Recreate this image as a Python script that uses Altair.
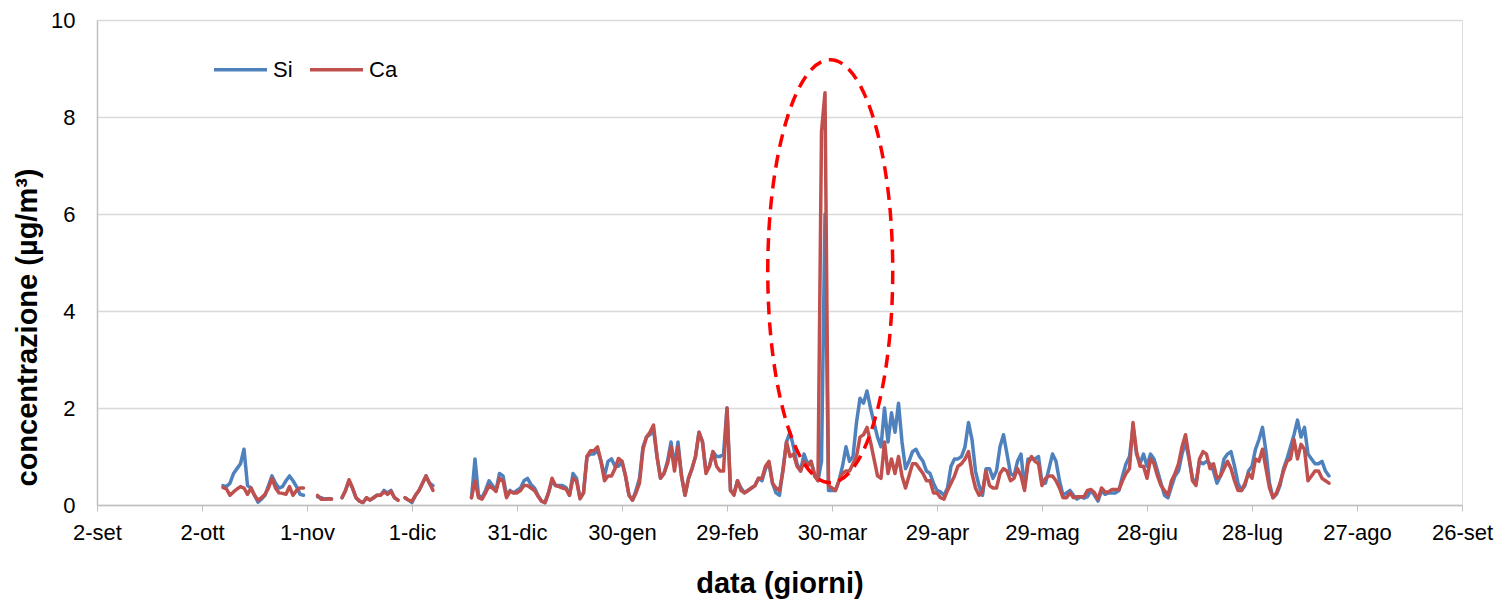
import altair as alt
import pandas as pd

# ---------------- data (daily values) ----------------
start_date = "2015-10-08"   # first day with data
# None = missing day (gap in the line)
si = [
    0.40, 0.38, 0.45, 0.65, 0.75, 0.85, 1.15, 0.40, 0.35, 0.20,   # 8-17 ott
    0.06, 0.12, 0.20, 0.40, 0.60, 0.45, 0.35, 0.38, 0.50, 0.60,   # 18-27 ott
    0.50, 0.38, 0.22, 0.20, None, None, None, 0.17, 0.15, 0.12,   # 28 ott - 6 nov
    0.13, 0.13, None, None, 0.15, 0.30, 0.50, 0.35, 0.15, 0.08,   # 7-16 nov
    0.05, 0.15, 0.10, 0.15, 0.20, 0.20, 0.30, 0.25, 0.30, 0.15,   # 17-26 nov
    0.10, None, 0.15, 0.10, 0.05, 0.20, 0.30, 0.45, 0.60, 0.45,   # 27 nov - 6 dic
    0.40, None, None, None, None, None, None, None, None, None,   # 7-16 dic
    None, 0.15, 0.95, 0.20, 0.15, 0.30, 0.50, 0.40, 0.30, 0.65,   # 17-26 dic
    0.60, 0.20, 0.30, 0.25, 0.30, 0.35, 0.50, 0.55, 0.42, 0.35,   # 27 dic - 5 gen
    0.20, 0.08, 0.05, 0.25, 0.50, 0.40, 0.40, 0.40, 0.36, 0.20,   # 6-15 gen
    0.65, 0.55, 0.13, 0.25, 1.00, 1.05, 1.05, 1.15, 0.90, 0.60,   # 16-25 gen
    0.90, 0.95, 0.80, 0.80, 0.90, 0.60, 0.20, 0.10, 0.30, 0.55,   # 26 gen - 4 feb
    1.20, 1.40, 1.45, 1.55, 1.00, 0.55, 0.65, 0.90, 1.30, 0.80,   # 5-14 feb
    1.30, 0.60, 0.20, 0.55, 0.75, 1.00, 1.50, 1.30, 0.70, 0.80,   # 15-24 feb
    1.10, 1.00, 1.00, 1.05, 2.00, 0.30, 0.25, 0.50, 0.35, 0.25,   # 25 feb - 5 mar
    0.30, 0.35, 0.40, 0.55, 0.50, 0.75, 0.85, 0.45, 0.25, 0.20,   # 6-15 mar
    0.75, 1.30, 1.50, 1.20, 0.85, 0.70, 1.05, 0.85, 0.90, 0.65,   # 16-25 mar
    0.50, 0.90, 6.00, 0.30, 0.30, 0.30, 0.50, 0.80, 1.20, 0.90,   # 26 mar - 4 apr
    1.00, 1.70, 2.20, 2.10, 2.35, 2.00, 1.70, 1.40, 1.20, 2.00,   # 5-14 apr
    1.30, 1.90, 1.50, 2.10, 1.30, 0.75, 0.90, 1.10, 1.15, 1.00,   # 15-24 apr
    0.90, 0.70, 0.65, 0.45, 0.30, 0.27, 0.20, 0.35, 0.80, 0.95,   # 25 apr - 4 mag
    0.95, 1.00, 1.20, 1.70, 1.35, 0.70, 0.40, 0.20, 0.75, 0.75,   # 5-14 mag
    0.55, 0.70, 1.20, 1.45, 1.05, 0.65, 0.60, 0.90, 1.05, 0.35,   # 15-24 mag
    0.95, 0.95, 0.95, 1.00, 0.45, 0.45, 0.75, 1.05, 0.90, 0.50,   # 25 mag - 3 giu
    0.20, 0.25, 0.30, 0.20, 0.12, 0.17, 0.14, 0.17, 0.30, 0.20,   # 4-13 giu
    0.08, 0.30, 0.22, 0.25, 0.25, 0.25, 0.30, 0.60, 0.85, 1.00,   # 14-23 giu
    1.60, 1.05, 0.85, 1.05, 0.80, 1.05, 0.95, 0.70, 0.45, 0.20,   # 24 giu - 3 lug
    0.15, 0.38, 0.60, 0.70, 1.05, 1.30, 0.95, 0.55, 0.45, 0.90,   # 4-13 lug
    0.85, 0.90, 0.85, 0.70, 0.45, 0.60, 0.95, 1.05, 1.10, 0.80,   # 14-23 lug
    0.45, 0.30, 0.40, 0.70, 0.80, 1.15, 1.35, 1.60, 1.10, 0.45,   # 24 lug - 2 ago
    0.15, 0.22, 0.40, 0.75, 0.95, 1.20, 1.45, 1.75, 1.40, 1.60,   # 3-12 ago
    1.05, 0.95, 0.85, 0.85, 0.90, 0.70, 0.60,                     # 13-19 ago
]
ca = [
    0.36, 0.33, 0.20, 0.27, 0.33, 0.38, 0.35, 0.22, 0.35, 0.20,
    0.10, 0.15, 0.22, 0.35, 0.55, 0.35, 0.25, 0.24, 0.22, 0.38,
    0.20, 0.30, 0.35, 0.35, None, None, None, 0.20, 0.12, 0.12,
    0.13, 0.12, None, None, 0.15, 0.30, 0.52, 0.35, 0.15, 0.08,
    0.05, 0.15, 0.10, 0.15, 0.20, 0.20, 0.27, 0.22, 0.28, 0.15,
    0.10, None, 0.15, 0.10, 0.08, 0.20, 0.30, 0.45, 0.60, 0.45,
    0.30, None, None, None, None, None, None, None, None, None,
    None, 0.15, 0.50, 0.15, 0.12, 0.25, 0.40, 0.35, 0.28, 0.55,
    0.50, 0.15, 0.28, 0.25, 0.25, 0.30, 0.40, 0.40, 0.35, 0.30,
    0.18, 0.08, 0.05, 0.25, 0.55, 0.40, 0.38, 0.35, 0.33, 0.20,
    0.55, 0.50, 0.13, 0.25, 1.00, 1.12, 1.12, 1.20, 0.90, 0.50,
    0.60, 0.60, 0.75, 0.96, 0.90, 0.60, 0.20, 0.10, 0.25, 0.45,
    1.15, 1.40, 1.50, 1.65, 1.00, 0.55, 0.65, 0.85, 1.20, 0.70,
    1.20, 0.60, 0.20, 0.55, 0.75, 1.00, 1.50, 1.30, 0.65, 0.80,
    1.10, 0.80, 0.70, 0.70, 2.00, 0.30, 0.20, 0.50, 0.30, 0.25,
    0.30, 0.35, 0.40, 0.55, 0.55, 0.80, 0.90, 0.45, 0.35, 0.30,
    0.70, 1.30, 1.00, 1.05, 0.80, 0.70, 0.90, 0.80, 0.90, 0.60,
    0.50, 7.70, 8.50, 0.40, 0.35, 0.30, 0.50, 0.65, 0.70, 0.70,
    0.85, 1.00, 1.40, 1.45, 1.60, 1.30, 0.95, 0.60, 0.55, 1.30,
    0.65, 0.95, 0.65, 1.00, 0.60, 0.35, 0.60, 0.85, 0.85, 0.75,
    0.65, 0.50, 0.50, 0.25, 0.25, 0.15, 0.12, 0.30, 0.45, 0.60,
    0.80, 0.85, 0.95, 1.10, 0.65, 0.35, 0.20, 0.28, 0.70, 0.40,
    0.35, 0.35, 0.65, 0.75, 0.70, 0.50, 0.55, 0.75, 0.60, 0.30,
    0.85, 1.00, 0.90, 0.85, 0.40, 0.55, 0.60, 0.60, 0.50, 0.35,
    0.15, 0.15, 0.25, 0.15, 0.17, 0.17, 0.17, 0.30, 0.32, 0.25,
    0.12, 0.35, 0.27, 0.27, 0.32, 0.32, 0.32, 0.50, 0.65, 0.75,
    1.70, 1.10, 0.80, 0.80, 0.55, 0.95, 0.85, 0.60, 0.40, 0.30,
    0.20, 0.50, 0.65, 0.85, 1.20, 1.45, 1.00, 0.50, 0.40, 0.95,
    1.10, 1.05, 0.75, 0.85, 0.55, 0.60, 0.75, 0.90, 0.75, 0.50,
    0.30, 0.30, 0.45, 0.65, 0.55, 0.95, 0.90, 1.15, 0.75, 0.35,
    0.15, 0.25, 0.45, 0.70, 0.90, 0.95, 1.35, 0.95, 1.25, 1.15,
    0.50, 0.60, 0.70, 0.70, 0.55, 0.50, 0.45,
]
species = ["Si", "Ca"]
colors = ["#4F81BD", "#C0504D"]
tick_dates = ["2015-09-02", "2015-10-02", "2015-11-01", "2015-12-01", "2015-12-31",
              "2016-01-30", "2016-02-29", "2016-03-30", "2016-04-29", "2016-05-29",
              "2016-06-28", "2016-07-28", "2016-08-27", "2016-09-26"]
month_it = ["gen", "feb", "mar", "apr", "mag", "giu", "lug", "ago", "set", "ott", "nov", "dic"]
# annotation: dashed ellipse around the spike
ellipse_center_date = ["2016-03-29T12:00:00Z"]
ellipse_center_value = [4.82]

assert len(si) == len(ca)

# ---------------- table ----------------
dates = pd.date_range(start_date, periods=len(si), freq="D").strftime("%Y-%m-%d")
rows = []
for name, vals in (("Si", si), ("Ca", ca)):
    seg = 0
    prev_none = True
    for d, v in zip(dates, vals):
        if v is None:
            prev_none = True
            continue
        if prev_none:
            seg += 1
            prev_none = False
        rows.append({"date": d, "value": v, "series": name, "seg": f"{name}{seg}"})
df = pd.DataFrame(rows)
ell = pd.DataFrame({"date": ellipse_center_date, "value": ellipse_center_value})


def dt(s):
    y, m, d = (int(p) for p in s[:10].split("-"))
    return alt.DateTime(year=y, month=m, date=d, utc=True)


label_expr = ("utcdate(datum.value) + '-' + " + str(month_it) + "[utcmonth(datum.value)]")

FONT = "Liberation Sans"

x_enc = alt.X(
    "date:T",
    scale=alt.Scale(type="utc", domain=[dt(tick_dates[0]), dt(tick_dates[-1])]),
    axis=alt.Axis(
        values=[dt(s) for s in tick_dates],
        labelExpr=label_expr,
        labelFlush=False,
        grid=False,
        domainColor="#BFBFBF",
        domainWidth=1.5,
        tickColor="#BFBFBF",
        tickSize=6,
        labelPadding=11,
        labelFontSize=22,
        labelColor="#000000",
        labelFont=FONT,
        labelAngle=0,
        labelOverlap=False,
        title="data (giorni)",
        titleFont=FONT,
        titleFontSize=29,
        titleFontWeight="bold",
        titleColor="#000000",
        titleX=682.5,
        titleY=78,
        titleAnchor="middle",
        titleAlign="center",
        titleBaseline="middle",
    ),
)
y_enc = alt.Y(
    "value:Q",
    scale=alt.Scale(domain=[0, 10], nice=False),
    axis=alt.Axis(
        values=[0, 2, 4, 6, 8, 10],
        grid=True,
        gridColor="#D9D9D9",
        gridWidth=1.3,
        ticks=False,
        domainColor="#BFBFBF",
        domainWidth=1.5,
        labelPadding=22,
        labelFontSize=22,
        labelColor="#000000",
        labelFont=FONT,
        title="concentrazione (µg/m³)",
        titleFont=FONT,
        titleFontSize=29,
        titleFontWeight="bold",
        titleColor="#000000",
        titleAngle=-90,
        titleX=-70,
        titleY=307,
        titleAlign="center",
        titleBaseline="middle",
    ),
)
color_enc = alt.Color(
    "series:N",
    scale=alt.Scale(domain=species, range=colors),
    legend=alt.Legend(
        title=None,
        orient="none",
        direction="horizontal",
        legendX=115,
        legendY=21,
        symbolType="stroke",
        symbolSize=2809,
        symbolStrokeWidth=3.5,
        labelFontSize=22,
        labelFont=FONT,
        labelColor="#000000",
        labelOffset=4,
        columnPadding=10,
    ),
)

base = alt.Chart(df)
line_si = base.transform_filter(alt.datum.series == "Si").mark_line(
    strokeWidth=3.5, strokeJoin="round", strokeCap="round"
).encode(x=x_enc, y=y_enc, color=color_enc, detail="seg:N")
line_ca = base.transform_filter(alt.datum.series == "Ca").mark_line(
    strokeWidth=3.5, strokeJoin="round", strokeCap="round"
).encode(x=x_enc, y=y_enc, color=color_enc, detail="seg:N")

a = 0.2955
k = 0.5523
ellipse_path = (
    f"M 0,-1 C {k*a:.4f},-1 {a},{-k} {a},0 "
    f"C {a},{k} {k*a:.4f},1 0,1 "
    f"C {-k*a:.4f},1 {-a},{k} {-a},0 "
    f"C {-a},{-k} {-k*a:.4f},-1 0,-1 Z"
)
ellipse = alt.Chart(ell).mark_point(
    shape=ellipse_path,
    size=423 * 423,
    filled=False,
    stroke="#FF0000",
    strokeWidth=3.5,
    strokeDash=[13, 8],
    opacity=1,
).encode(x="date:T", y="value:Q")

chart = alt.layer(line_si, line_ca, ellipse).properties(
    width=1365,
    height=485,
    padding={"left": 97, "top": 20, "right": 36, "bottom": 95},
    autosize=alt.AutoSizeParams(type="none"),
).configure_view(stroke=None).configure(font=FONT)

chart.save("out.html", embed_options={"renderer": "svg", "actions": False})
